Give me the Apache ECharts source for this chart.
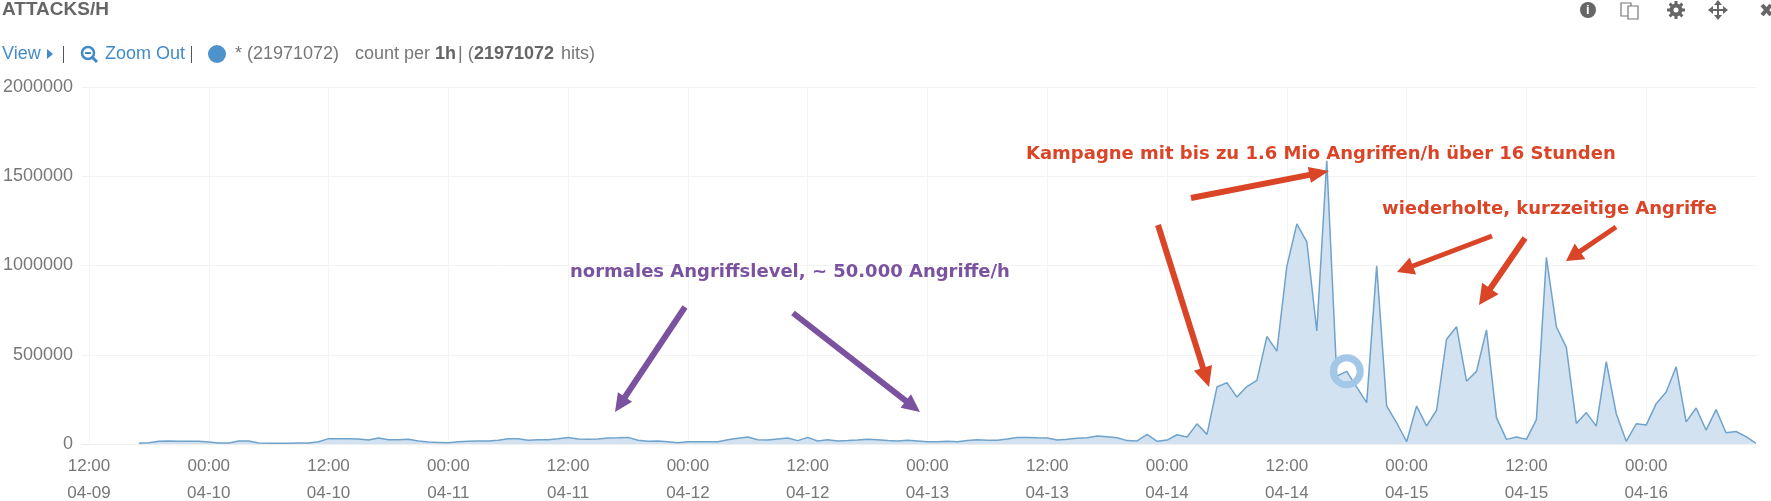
<!DOCTYPE html>
<html>
<head>
<meta charset="utf-8">
<style>
  html, body { margin: 0; padding: 0; background: #fff; }
  #main { width: 1771px; height: 501px; }
</style>
<script src="https://cdn.jsdelivr.net/npm/echarts@6/dist/echarts.min.js"></script>
</head>
<body>
<div id="main"></div>
<script>
// hits per hour, first value is 04-09 17:00, last one 04-16 11:00
var hits = [
  4000, 7000, 15000, 17000, 15000, 15000, 15000, 11000, 6000, 6000,
  17000, 17000, 6000, 4000, 4000, 4000, 6000, 6000, 13000, 30000,
  30000, 30000, 28000, 22000, 34000, 24000, 24000, 26000, 17000, 11000,
  9000, 7000, 13000, 15000, 17000, 17000, 21000, 30000, 30000, 21000,
  24000, 24000, 30000, 37000, 28000, 26000, 28000, 34000, 35000, 37000,
  21000, 15000, 17000, 13000, 7000, 13000, 13000, 13000, 13000, 24000,
  32000, 39000, 24000, 22000, 28000, 34000, 19000, 37000, 17000, 24000,
  17000, 19000, 22000, 26000, 24000, 19000, 17000, 21000, 17000, 13000,
  13000, 15000, 13000, 19000, 24000, 21000, 21000, 28000, 37000, 37000,
  35000, 34000, 22000, 26000, 32000, 35000, 45000, 41000, 35000, 19000,
  17000, 54000, 15000, 22000, 52000, 39000, 113000, 54000, 319000, 344000,
  263000, 322000, 356000, 602000, 520000, 995000, 1233000, 1133000, 633000, 1587000,
  380000, 407000, 319000, 232000, 998000, 213000, 119000, 13000, 213000, 102000,
  189000, 587000, 657000, 352000, 407000, 639000, 148000, 26000, 39000, 26000,
  137000, 1045000, 657000, 541000, 115000, 176000, 100000, 461000, 170000, 15000,
  113000, 106000, 226000, 291000, 433000, 124000, 202000, 78000, 193000, 63000,
  70000, 41000, 4000
];
// x axis counts hours since 04-09 00:00
var firstHour = 17;
var tickHoursFromStart = [12, 24, 36, 48, 60, 72, 84, 96, 108, 120, 132, 144, 156, 168];
var tickDays = ['04-09', '04-10', '04-10', '04-11', '04-11', '04-12', '04-12', '04-13', '04-13', '04-14', '04-14', '04-15', '04-15', '04-16'];
var tickHours = ['12:00', '00:00', '12:00', '00:00', '12:00', '00:00', '12:00', '00:00', '12:00', '00:00', '12:00', '00:00', '12:00', '00:00'];
var ringIndex = 121;

var seriesData = hits.map(function (v, i) {
  return [firstHour + i, v];
});

var font = '"Liberation Sans", Arial, sans-serif';
var red = '#DB4527';
var purple = '#7B52A0';
var blue = '#428BCA';
var grey = '#666';

// turn a start point and a tip into an arrow shape
function arrow(x1, y1, x2, y2, color, w, headL, headW) {
  var len = Math.sqrt((x2 - x1) * (x2 - x1) + (y2 - y1) * (y2 - y1));
  var ux = (x2 - x1) / len, uy = (y2 - y1) / len;
  var nx = -uy, ny = ux;
  var bx = x2 - ux * headL, by = y2 - uy * headL;
  return {
    type: 'polygon',
    silent: true,
    z: 20,
    shape: {
      points: [
        [x1 + nx * w / 2, y1 + ny * w / 2],
        [bx + nx * w / 2, by + ny * w / 2],
        [bx + nx * headW / 2, by + ny * headW / 2],
        [x2, y2],
        [bx - nx * headW / 2, by - ny * headW / 2],
        [bx - nx * w / 2, by - ny * w / 2],
        [x1 - nx * w / 2, y1 - ny * w / 2]
      ]
    },
    style: { fill: color }
  };
}

function txt(x, y, text, size, color, weight, family) {
  return {
    type: 'text',
    x: x,
    y: y,
    z: 30,
    style: {
      text: text,
      fill: color,
      font: (weight || 'normal') + ' ' + size + 'px ' + (family || font),
      textVerticalAlign: 'middle'
    }
  };
}

// gear teeth for the toolbar
function gearTeeth(cx, cy) {
  var teeth = [];
  for (var k = 0; k < 8; k++) {
    var a = k * Math.PI / 4;
    teeth.push({
      type: 'line',
      shape: { x1: cx, y1: cy, x2: cx + Math.cos(a) * 9, y2: cy + Math.sin(a) * 9 },
      style: { stroke: '#666', lineWidth: 3 }
    });
  }
  return teeth;
}

var notes = '"DejaVu Sans", sans-serif';
var graphics = [
  txt(2, 10, 'ATTACKS/H', 19, grey, 'bold'),
  txt(2, 54, 'View', 18, blue),
  { type: 'polygon', shape: { points: [[47, 49], [53, 54], [47, 59]] }, style: { fill: blue } },
  { type: 'rect', shape: { x: 63, y: 46, width: 1, height: 17 }, style: { fill: '#555' } },
  { type: 'circle', shape: { cx: 88, cy: 53, r: 6 }, style: { fill: 'none', stroke: blue, lineWidth: 2.5 } },
  { type: 'line', shape: { x1: 92, y1: 57, x2: 97, y2: 62 }, style: { stroke: blue, lineWidth: 3 } },
  { type: 'rect', shape: { x: 85, y: 52, width: 6, height: 2 }, style: { fill: blue } },
  txt(105, 54, 'Zoom Out', 18, blue),
  { type: 'rect', shape: { x: 191, y: 46, width: 1, height: 17 }, style: { fill: '#555' } },
  { type: 'circle', shape: { cx: 217, cy: 54, r: 9 }, style: { fill: '#4E92CB' } },
  txt(235, 54, '* (21971072)', 18, '#777'),
  txt(355, 54, 'count per', 18, '#777'),
  txt(435, 54, '1h', 18, grey, 'bold'),
  txt(458, 54, '| (', 18, '#777'),
  txt(474, 54, '21971072', 18, grey, 'bold'),
  txt(561, 54, 'hits)', 18, '#777'),

  // toolbar icons
  { type: 'circle', shape: { cx: 1588, cy: 10, r: 8 }, style: { fill: '#666' } },
  txt(1586, 10, 'i', 13, '#fff', 'bold'),
  { type: 'rect', shape: { x: 1621, y: 3, width: 10, height: 13 }, style: { fill: '#fff', stroke: '#777', lineWidth: 1.2 } },
  { type: 'rect', shape: { x: 1628, y: 6, width: 10, height: 13 }, style: { fill: '#fff', stroke: '#777', lineWidth: 1.2 } }
].concat(gearTeeth(1676, 10), [
  { type: 'circle', shape: { cx: 1676, cy: 10, r: 6.5 }, style: { fill: '#666' }, z: 5 },
  { type: 'circle', shape: { cx: 1676, cy: 10, r: 2.5 }, style: { fill: '#fff' }, z: 6 },
  { type: 'line', shape: { x1: 1718, y1: 1, x2: 1718, y2: 19 }, style: { stroke: '#666', lineWidth: 2 } },
  { type: 'line', shape: { x1: 1709, y1: 10, x2: 1727, y2: 10 }, style: { stroke: '#666', lineWidth: 2 } },
  { type: 'polygon', shape: { points: [[1718, 0], [1722, 5], [1714, 5]] }, style: { fill: '#666' } },
  { type: 'polygon', shape: { points: [[1718, 20], [1722, 15], [1714, 15]] }, style: { fill: '#666' } },
  { type: 'polygon', shape: { points: [[1708, 10], [1713, 6], [1713, 14]] }, style: { fill: '#666' } },
  { type: 'polygon', shape: { points: [[1728, 10], [1723, 6], [1723, 14]] }, style: { fill: '#666' } },
  { type: 'line', shape: { x1: 1762, y1: 5, x2: 1771, y2: 15 }, style: { stroke: '#666', lineWidth: 4 } },
  { type: 'line', shape: { x1: 1771, y1: 5, x2: 1762, y2: 15 }, style: { stroke: '#666', lineWidth: 4 } },

  // annotations
  txt(570, 272, 'normales Angriffslevel, ~ 50.000 Angriffe/h', 18, purple, 'bold', notes),
  txt(1026, 154, 'Kampagne mit bis zu 1.6 Mio Angriffen/h über 16 Stunden', 18, red, 'bold', notes),
  txt(1382, 209, 'wiederholte, kurzzeitige Angriffe', 18, red, 'bold', notes),
  arrow(685, 307, 615, 412, purple, 6, 18, 17),
  arrow(793, 313, 920, 412, purple, 6, 18, 17),
  arrow(1191, 198, 1329, 171, red, 6, 20, 16),
  arrow(1158, 225, 1209, 387, red, 6, 20, 19),
  arrow(1492, 236, 1397, 272, red, 5, 17, 18),
  arrow(1525, 238, 1479, 305, red, 6, 20, 20),
  arrow(1616, 227, 1566, 261, red, 5, 17, 19)
]);

var chartDom = document.getElementById('main');
var myChart = echarts.init(chartDom, null, { renderer: 'canvas' });
var option;

option = {
  animation: false,
  backgroundColor: '#fff',
  grid: { left: 82, right: 14, top: 87, bottom: 57, outerBoundsMode: 'none' },
  xAxis: {
    type: 'value',
    min: 11.3,
    max: 179.1,
    axisLine: { show: true, onZero: false, lineStyle: { color: '#eee' } },
    axisTick: { show: false, customValues: tickHoursFromStart },
    splitLine: { show: true, lineStyle: { color: '#f3f3f3' } },
    axisLabel: {
      customValues: tickHoursFromStart,
      color: '#777',
      fontFamily: font,
      fontSize: 17,
      lineHeight: 27,
      margin: 9,
      formatter: function (value) {
        var i = tickHoursFromStart.indexOf(value);
        return tickHours[i] + '\n' + tickDays[i];
      }
    }
  },
  yAxis: {
    type: 'value',
    min: 0,
    max: 2000000,
    interval: 500000,
    axisLine: { show: false },
    axisTick: { show: false },
    splitLine: { lineStyle: { color: '#f3f3f3' } },
    axisLabel: {
      color: '#777',
      fontFamily: font,
      fontSize: 18,
      margin: 9,
      formatter: function (value) {
        return String(value);
      }
    }
  },
  series: [
    {
      name: '*',
      type: 'line',
      data: seriesData,
      showSymbol: false,
      smooth: false,
      lineStyle: { color: '#6FA3CC', width: 1.5 },
      areaStyle: { color: '#D3E2F1', opacity: 1 },
      markPoint: {
        silent: true,
        symbol: 'circle',
        symbolSize: 27,
        itemStyle: { color: 'rgba(0,0,0,0)', borderColor: '#A3C7E6', borderWidth: 7 },
        label: { show: false },
        data: [{ coord: seriesData[ringIndex] }]
      }
    }
  ],
  graphic: { elements: graphics }
};

option && myChart.setOption(option);
</script>
</body>
</html>
